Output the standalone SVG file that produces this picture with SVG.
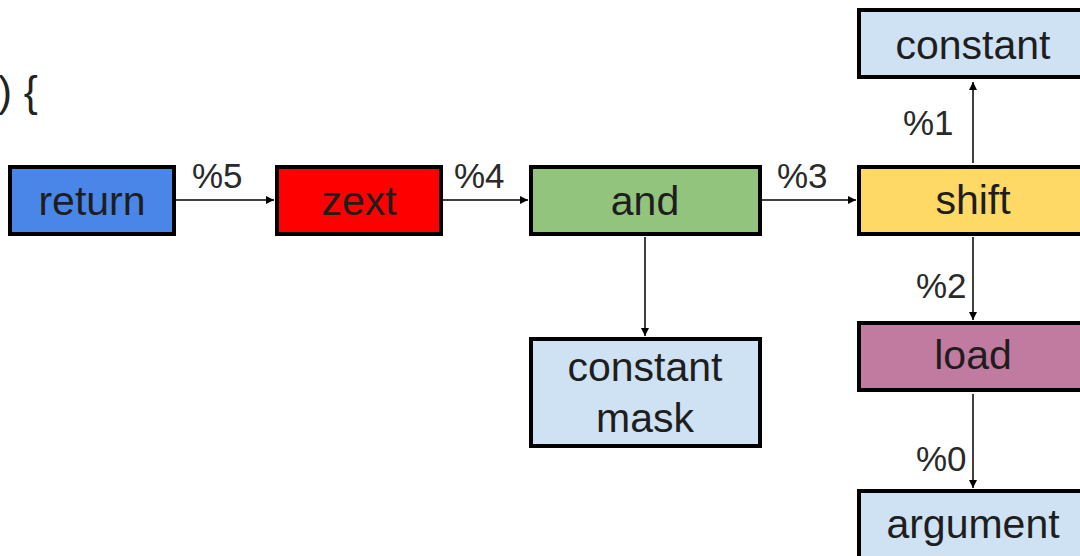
<svg xmlns="http://www.w3.org/2000/svg" width="1080" height="556" viewBox="0 0 1080 556">
  <defs>
    <marker id="arrow" viewBox="0 0 10 10" refX="10" refY="5" markerWidth="9" markerHeight="8" markerUnits="userSpaceOnUse" orient="auto">
      <path d="M0,0 L10,5 L0,10 z" fill="#000"/>
    </marker>
    <style>
      .box { stroke: #000; stroke-width: 4; }
      .lbl { font-family: "Liberation Sans", Arial, sans-serif; font-size: 41px; fill: #1e1e1e; text-anchor: middle; }
      .edge { font-family: "Liberation Sans", Arial, sans-serif; font-size: 35px; fill: #2a2a2a; }
      .conn { stroke: #000; stroke-width: 1.5; fill: none; marker-end: url(#arrow); }
    </style>
  </defs>
  <rect width="1080" height="556" fill="#fff"/>

  <!-- tail of the function signature -->
  <text x="-2" y="106" font-family="Liberation Sans, Arial, sans-serif" font-size="42" fill="#222">) {</text>

  <!-- connectors -->
  <g id="connectors">
    <line class="conn" x1="176" y1="200" x2="274" y2="200"/>
    <text class="edge" x="192" y="188">%5</text>
    <line class="conn" x1="443" y1="200" x2="528" y2="200"/>
    <text class="edge" x="454" y="188">%4</text>
    <line class="conn" x1="762" y1="200" x2="856" y2="200"/>
    <text class="edge" x="777" y="188">%3</text>
    <line class="conn" x1="645" y1="237" x2="645" y2="336"/>
    <line class="conn" x1="973" y1="163" x2="973" y2="82"/>
    <text class="edge" x="903" y="135">%1</text>
    <line class="conn" x1="973" y1="237" x2="973" y2="320"/>
    <text class="edge" x="916" y="298">%2</text>
    <line class="conn" x1="973" y1="394" x2="973" y2="488"/>
    <text class="edge" x="916" y="471">%0</text>
  </g>

  <g id="return">
    <rect class="box" x="10" y="167" width="164" height="67" fill="#4a86e8"/>
    <text class="lbl" x="92" y="215">return</text>
  </g>
  <g id="zext">
    <rect class="box" x="277" y="167" width="164" height="67" fill="#ff0000"/>
    <text class="lbl" x="359" y="215">zext</text>
  </g>
  <g id="and">
    <rect class="box" x="531" y="167" width="229" height="67" fill="#93c47d"/>
    <text class="lbl" x="645" y="215">and</text>
  </g>
  <g id="constant-mask">
    <rect class="box" x="531" y="339" width="229" height="107" fill="#cfe2f3"/>
    <text class="lbl" x="645" y="381">constant</text>
    <text class="lbl" x="645" y="432">mask</text>
  </g>
  <g id="shift">
    <rect class="box" x="859" y="167" width="240" height="67" fill="#ffd966"/>
    <text class="lbl" x="973" y="214">shift</text>
  </g>
  <g id="constant">
    <rect class="box" x="859" y="10" width="240" height="67" fill="#cfe2f3"/>
    <text class="lbl" x="973" y="59">constant</text>
  </g>
  <g id="load">
    <rect class="box" x="859" y="323" width="240" height="67" fill="#c27ba0"/>
    <text class="lbl" x="973" y="369">load</text>
  </g>
  <g id="argument">
    <rect class="box" x="859" y="491" width="240" height="80" fill="#cfe2f3"/>
    <text class="lbl" x="973" y="538">argument</text>
  </g>
</svg>
